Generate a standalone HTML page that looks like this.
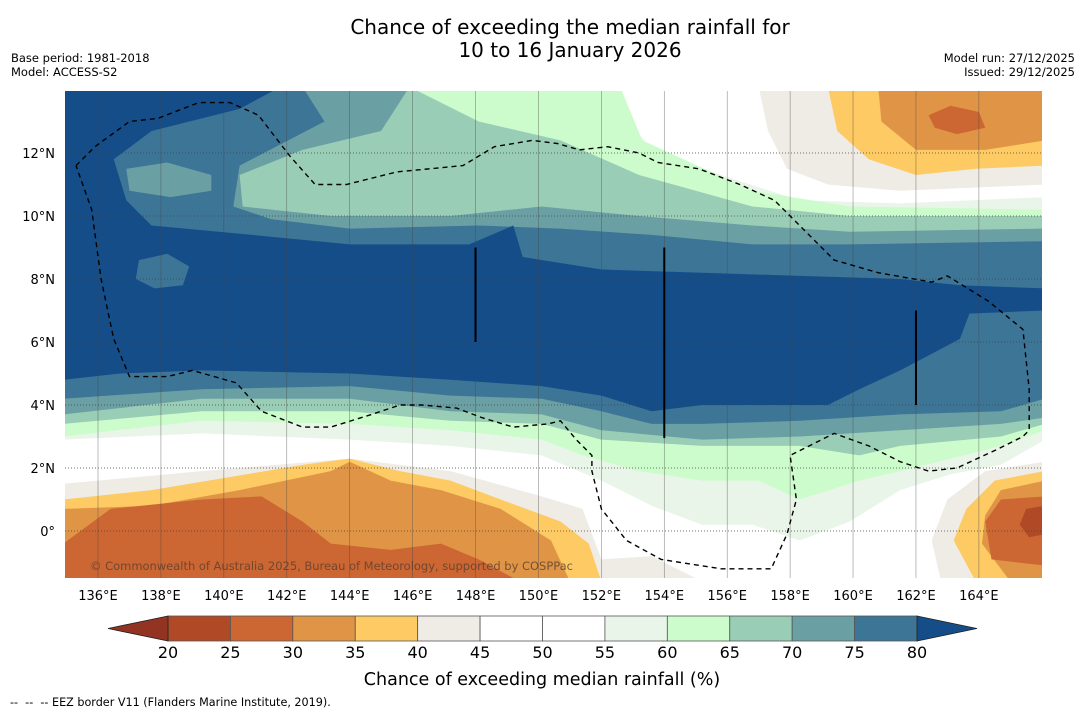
<!DOCTYPE html>
<html><head><meta charset="utf-8">
<style>
body{margin:0;background:#fff;width:1085px;height:713px;overflow:hidden;font-family:"DejaVu Sans","Liberation Sans",sans-serif;}
svg{position:absolute;left:0;top:0;}
</style></head>
<body>
<svg id="chart" width="1085" height="713" viewBox="0 0 1085 713">
<defs><clipPath id="mapclip"><rect x="65" y="91" width="977" height="487"/></clipPath></defs>
<text x="570" y="34" font-size="20" text-anchor="middle">Chance of exceeding the median rainfall for</text>
<text x="570" y="57" font-size="20" text-anchor="middle">10 to 16 January 2026</text>
<text x="11" y="62" font-size="11.5">Base period: 1981-2018</text>
<text x="11" y="76" font-size="11.5">Model: ACCESS-S2</text>
<text x="1075" y="62" font-size="11.5" text-anchor="end">Model run: 27/12/2025</text>
<text x="1075" y="76" font-size="11.5" text-anchor="end">Issued: 29/12/2025</text>
<g id="map" clip-path="url(#mapclip)">
<rect x="65" y="91" width="977" height="487" fill="#fff"/>
</g>
<g id="axes"></g>
<g id="cbar"></g>
<text x="542" y="685" font-size="17.5" text-anchor="middle">Chance of exceeding median rainfall (%)</text>
<text x="10" y="706" font-size="11.2" style="white-space:pre">--  --  -- EEZ border V11 (Flanders Marine Institute, 2019).</text>
</svg>
<script>
// projection
const xs = lon => 98 + (lon - 136) * 31.46;
const ys = lat => 531 - lat * 31.5;
const NS = 'http://www.w3.org/2000/svg';

const lonTicks = [136,138,140,142,144,146,148,150,152,154,156,158,160,162,164];
const latTicks = [12,10,8,6,4,2,0];
const latLabels = ['12°N','10°N','8°N','6°N','4°N','2°N','0°'];

const levels = [20,25,30,35,40,45,50,55,60,65,70,75,80];
const binColors = ['#b04a26','#cc6633','#e09546','#fdca64','#efebe5','#ffffff','#ffffff','#e9f5e8','#ccfccc','#99cdb6','#6aa0a4','#3d7597'];
const lowExtColor = '#933322';
const highExtColor = '#154d89';

// contour regions (lon, lat)
const regionGE55 = [[134.9,14.1],[152.0,14.1],[153.6,12.1],[155.8,11.3],[158.3,10.5],[161.5,10.4],[166.1,10.6],[166.1,2.9],[164.7,2.1],[163.1,1.8],[161.5,1.3],[159.9,0.3],[158.3,-0.3],[156.8,0.2],[155.2,0.2],[153.6,0.8],[152.0,1.6],[150.1,2.4],[147.2,2.7],[144.0,2.9],[139.3,3.1],[134.9,2.9]];
const regionGE60 = [[134.9,14.1],[152.6,14.1],[153.3,12.4],[156.8,10.8],[159.9,10.3],[166.1,10.2],[166.1,3.2],[164.7,2.7],[163.1,2.3],[161.5,1.9],[160.2,1.6],[158.3,1.0],[157.0,1.6],[155.2,1.6],[153.2,1.9],[151.4,2.4],[150.1,2.9],[147.2,3.2],[144.0,3.4],[139.3,3.5],[134.9,3.0]];
const regionGE65 = [[134.9,14.1],[145.9,14.1],[148.1,13.0],[150.7,12.4],[153.2,11.3],[156.8,10.3],[159.9,10.0],[166.1,10.0],[166.1,3.4],[164.7,3.0],[161.5,2.7],[160.2,2.4],[158.3,2.7],[155.2,2.7],[152.0,2.9],[150.1,3.4],[147.2,3.5],[144.0,3.8],[139.3,3.8],[134.9,3.4]];
const regionGE70 = [[134.9,14.1],[145.9,14.1],[145.0,12.7],[142.5,12.1],[140.5,11.3],[140.6,10.3],[143.4,10.0],[147.2,10.0],[150.1,10.3],[153.2,10.0],[156.8,9.7],[159.9,9.5],[166.1,9.6],[166.1,3.6],[164.7,3.4],[161.5,3.2],[158.3,3.0],[155.2,2.9],[152.0,3.2],[150.1,3.7],[147.2,3.8],[144.0,4.2],[139.3,4.2],[134.9,3.7]];
const regionGE75 = [[134.9,14.1],[142.5,14.1],[143.2,13.0],[140.5,11.6],[140.3,10.3],[141.5,9.9],[144.0,9.6],[148.1,9.7],[150.7,9.6],[153.6,9.4],[156.8,9.1],[159.9,9.1],[166.1,9.2],[166.1,4.2],[164.7,3.8],[161.5,3.7],[158.3,3.5],[155.2,3.4],[153.6,3.4],[152.0,3.8],[150.1,4.2],[147.2,4.3],[144.0,4.6],[139.3,4.5],[134.9,4.2]];
const blobGE70 = [[136.9,11.5],[138.2,11.7],[139.6,11.3],[139.6,10.8],[138.3,10.6],[137.0,10.8]];
const regionGE80 = [[134.9,14.1],[141.8,14.1],[140.5,13.4],[137.7,12.7],[136.5,11.8],[136.9,10.5],[137.7,9.7],[140.9,9.4],[144.0,9.1],[147.8,9.1],[149.2,9.7],[149.5,8.7],[152.0,8.3],[155.2,8.2],[158.3,8.1],[161.5,8.0],[163.4,7.8],[166.1,7.7],[166.1,7.0],[163.7,6.9],[163.4,6.1],[161.5,5.1],[160.2,4.5],[159.2,4.0],[157.0,4.0],[155.2,4.0],[153.6,3.8],[152.0,4.3],[150.1,4.6],[147.2,4.8],[144.0,5.0],[139.3,5.1],[136.7,5.0],[134.9,4.8]];
const blobGE75 = [[137.3,8.6],[138.2,8.8],[138.9,8.4],[138.7,7.8],[137.8,7.7],[137.2,8.0]];
const regionLE45 = [
 [[134.9,1.5],[139.3,1.9],[144.0,2.3],[147.2,1.9],[150.1,1.1],[151.4,0.7],[152.0,-0.9],[153.6,-0.8],[155.2,-1.6],[134.9,-1.6]],
 [[157.0,14.1],[157.3,12.7],[157.9,11.5],[159.2,11.0],[161.5,10.8],[166.1,11.0],[166.1,14.1]],
 [[166.1,2.2],[164.2,1.9],[163.0,1.0],[162.5,-0.3],[162.8,-1.6],[166.1,-1.6]]];
const regionLE40 = [
 [[134.9,1.0],[137.7,1.3],[142.5,2.1],[144.0,2.3],[145.6,1.9],[147.2,1.6],[148.8,1.0],[150.7,0.3],[151.6,-0.4],[152.0,-1.6],[134.9,-1.6]],
 [[159.2,14.1],[159.5,12.7],[160.5,11.8],[162.0,11.3],[163.9,11.5],[166.1,11.6],[166.1,14.1]],
 [[166.1,1.9],[164.5,1.6],[163.6,0.7],[163.2,-0.3],[163.9,-1.6],[166.1,-1.6]]];
const regionLE35 = [
 [[134.9,0.7],[137.7,0.8],[140.5,1.3],[143.4,1.9],[144.0,2.2],[145.3,1.6],[146.9,1.3],[148.8,0.7],[150.4,-0.3],[151.0,-1.6],[134.9,-1.6]],
 [[160.8,14.1],[160.9,13.0],[162.0,12.1],[164.2,12.1],[166.1,12.4],[166.1,14.1]],
 [[166.1,1.6],[164.7,1.3],[164.2,0.5],[164.1,-0.4],[165.0,-1.6],[166.1,-1.6]]];
const regionLE30 = [
 [[134.9,-0.4],[136.4,0.7],[139.3,1.0],[141.2,1.1],[142.5,0.3],[143.4,-0.4],[145.3,-0.6],[146.9,-0.4],[148.1,-0.9],[149.4,-1.6],[134.9,-1.6]],
 [[162.4,13.2],[163.1,13.5],[164.0,13.3],[164.2,12.8],[163.3,12.6],[162.6,12.8]],
 [[166.1,1.1],[164.7,1.0],[164.2,0.3],[164.4,-0.9],[166.1,-1.1]]];
const regionLE25 = [[[166.1,0.8],[165.5,0.7],[165.3,0.2],[165.6,-0.2],[166.1,-0.1]]];
const eezLine = [[135.3,11.6],[135.9,12.2],[137.0,13.0],[137.9,13.1],[139.2,13.6],[140.2,13.6],[141.1,13.2],[142.1,11.9],[142.9,11.0],[143.9,11.0],[145.5,11.4],[147.6,11.6],[148.6,12.2],[149.8,12.4],[150.6,12.3],[151.3,12.1],[152.2,12.2],[153.2,12.0],[153.8,11.7],[155.1,11.5],[156.4,11.0],[157.5,10.5],[158.3,9.7],[159.4,8.6],[160.8,8.2],[162.5,7.9],[163.0,8.1],[164.3,7.3],[165.4,6.4],[165.6,4.5],[165.6,3.2],[165.4,3.0],[164.6,2.6],[163.3,2.0],[162.4,1.9],[161.5,2.2],[160.5,2.7],[159.4,3.1],[158.0,2.4],[158.2,1.0],[157.9,-0.1],[157.4,-1.2],[155.8,-1.2],[153.9,-0.9],[152.8,-0.3],[152.0,0.7],[151.7,1.9],[151.7,2.4],[151.2,2.9],[150.7,3.5],[150.3,3.4],[149.2,3.3],[148.2,3.6],[147.4,3.9],[146.3,4.0],[145.6,4.0],[144.7,3.7],[143.4,3.3],[142.5,3.3],[141.2,3.8],[140.4,4.7],[139.0,5.1],[138.2,4.9],[137.0,4.9],[136.5,6.1],[136.1,8.0],[135.8,10.2],[135.3,11.6]];
const meridianBars = [[148,9.0,6.0],[154,9.0,2.95],[162,7.0,4.0]];

function poly(pts){return pts.map(p=>xs(p[0]).toFixed(1)+','+ys(p[1]).toFixed(1)).join(' ');}
const map = document.getElementById('map');
function addPoly(pts,color,name){
  const el=document.createElementNS(NS,'polygon');
  el.setAttribute('points',poly(pts));
  el.setAttribute('fill',color);
  
  
  map.appendChild(el);
}
addPoly(regionGE55,binColors[7],'contour-55-60');
addPoly(regionGE60,binColors[8],'contour-60-65');
addPoly(regionGE65,binColors[9],'contour-65-70');
addPoly(regionGE70,binColors[10],'contour-70-75');
addPoly(regionGE75,binColors[11],'contour-75-80');
addPoly(blobGE70,binColors[10],'contour-70-75-blob');
addPoly(regionGE80,highExtColor,'contour-above-80');
addPoly(blobGE75,binColors[11],'contour-75-80-blob');
regionLE45.forEach(r=>addPoly(r,binColors[4],'contour-40-45'));
regionLE40.forEach(r=>addPoly(r,binColors[3],'contour-35-40'));
regionLE35.forEach(r=>addPoly(r,binColors[2],'contour-30-35'));
regionLE30.forEach(r=>addPoly(r,binColors[1],'contour-25-30'));
regionLE25.forEach(r=>addPoly(r,binColors[0],'contour-20-25'));

// gridlines
lonTicks.forEach(l=>{
  const g=document.createElementNS(NS,'line');
  g.setAttribute('x1',xs(l));g.setAttribute('x2',xs(l));g.setAttribute('y1',91);g.setAttribute('y2',578);
  g.setAttribute('stroke','#444');g.setAttribute('stroke-width','0.6');g.setAttribute('stroke-opacity','0.6');
  
  
  map.appendChild(g);
});
latTicks.forEach(l=>{
  const g=document.createElementNS(NS,'line');
  g.setAttribute('x1',65);g.setAttribute('x2',1042);g.setAttribute('y1',ys(l));g.setAttribute('y2',ys(l));
  g.setAttribute('stroke','#444');g.setAttribute('stroke-width','0.8');g.setAttribute('stroke-dasharray','1,2');
  
  
  map.appendChild(g);
});
meridianBars.forEach(b=>{
  const g=document.createElementNS(NS,'line');
  g.setAttribute('x1',xs(b[0]));g.setAttribute('x2',xs(b[0]));g.setAttribute('y1',ys(b[1]));g.setAttribute('y2',ys(b[2]));
  g.setAttribute('stroke','#000');g.setAttribute('stroke-width','2');
  
  
  map.appendChild(g);
});
const eez=document.createElementNS(NS,'polyline');
eez.setAttribute('points',poly(eezLine));
eez.setAttribute('fill','none');eez.setAttribute('stroke','#000');eez.setAttribute('stroke-width','1.4');eez.setAttribute('stroke-dasharray','5,4');


map.appendChild(eez);
const cr=document.createElementNS(NS,'text');
cr.setAttribute('x',90);cr.setAttribute('y',570);cr.setAttribute('font-size','11.5');cr.setAttribute('fill','#5a4030');cr.setAttribute('fill-opacity','0.8');
cr.setAttribute('textLength','483');
cr.textContent='© Commonwealth of Australia 2025, Bureau of Meteorology, supported by COSPPac';


map.appendChild(cr);

// axes labels
const axes=document.getElementById('axes');
lonTicks.forEach(l=>{
  const t=document.createElementNS(NS,'text');
  t.setAttribute('x',xs(l));t.setAttribute('y',600);t.setAttribute('font-size','13');t.setAttribute('text-anchor','middle');
  t.textContent=l+'°E';
  
  
  axes.appendChild(t);
});
latTicks.forEach((l,i)=>{
  const t=document.createElementNS(NS,'text');
  t.setAttribute('x',55);t.setAttribute('y',ys(l)+5);t.setAttribute('font-size','13');t.setAttribute('text-anchor','end');
  t.textContent=latLabels[i];
  
  
  axes.appendChild(t);
});

// colorbar
const cb=document.getElementById('cbar');
const cbx=v=>168+(v-20)*(917-168)/60;
const cbTop=616,cbBot=641;
binColors.forEach((c,i)=>{
  const r=document.createElementNS(NS,'rect');
  r.setAttribute('x',cbx(levels[i]));r.setAttribute('y',cbTop);r.setAttribute('width',cbx(levels[i+1])-cbx(levels[i]));r.setAttribute('height',cbBot-cbTop);
  r.setAttribute('fill',c);r.setAttribute('stroke','#555');r.setAttribute('stroke-width','0.8');
  
  
  cb.appendChild(r);
});
const tl=document.createElementNS(NS,'polygon');
tl.setAttribute('points',`${cbx(20)},${cbTop} 108,${(cbTop+cbBot)/2} ${cbx(20)},${cbBot}`);
tl.setAttribute('fill',lowExtColor);tl.setAttribute('stroke','#222');tl.setAttribute('stroke-width','0.8');


cb.appendChild(tl);
const tr=document.createElementNS(NS,'polygon');
tr.setAttribute('points',`${cbx(80)},${cbTop} 977,${(cbTop+cbBot)/2} ${cbx(80)},${cbBot}`);
tr.setAttribute('fill',highExtColor);tr.setAttribute('stroke','#222');tr.setAttribute('stroke-width','0.8');


cb.appendChild(tr);
levels.forEach(v=>{
  const t=document.createElementNS(NS,'text');
  t.setAttribute('x',cbx(v));t.setAttribute('y',658);t.setAttribute('font-size','16');t.setAttribute('text-anchor','middle');
  t.textContent=v;
  
  
  cb.appendChild(t);
});
</script>
</body></html>
